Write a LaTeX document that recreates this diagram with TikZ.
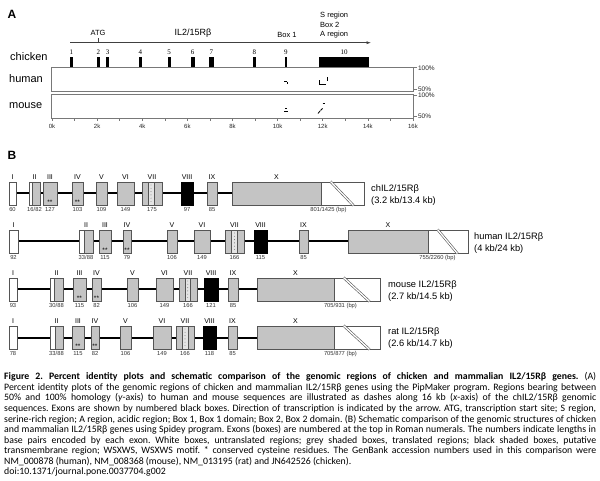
\documentclass[tikz,border=0pt]{standalone}
\usepackage{fontspec}
\setmainfont{Liberation Sans}
\newfontfamily\serifnum{Liberation Serif}
\newfontfamily\capfont{Carlito}
\usetikzlibrary{calc,arrows.meta}
\pgfdeclarelayer{background}
\pgfsetlayers{background,main}
\definecolor{exgray}{RGB}{196,196,196}
\definecolor{edge}{RGB}{85,85,85}
\definecolor{stripecol}{RGB}{228,228,228}
\definecolor{plotedge}{RGB}{120,120,120}
\frenchspacing
\tikzset{
  ebox/.style={draw=edge, line width=0.9pt, fill=exgray, inner sep=0pt, minimum height=23pt},
  wbox/.style={ebox, fill=white},
  bbox/.style={ebox, fill=black, draw=black},
  rom/.style={font=\fontsize{7}{8}\selectfont, anchor=south, inner sep=0pt},
  num/.style={font=\fontsize{5.8}{6}\selectfont, anchor=north, inner sep=0pt, text=black!80},
  star/.style={font=\fontsize{6.5}{6}\selectfont, anchor=south, inner sep=0pt},
  spec/.style={font=\fontsize{9.3}{12}\selectfont, anchor=west, align=left, inner sep=0pt},
  backbone/.style={line width=2pt, black},
  hatch/.style={double, double distance=1.3pt, line width=0.6pt, draw=edge},
  bar/.style={fill=black, inner sep=0pt, minimum height=10pt},
  barnum/.style={font=\serifnum\fontsize{7}{8}\selectfont, anchor=south, inner sep=0pt},
  plotbox/.style={draw=plotedge, line width=0.7pt, inner sep=0pt, minimum width=362pt, minimum height=24pt},
  axl/.style={font=\fontsize{6}{7}\selectfont, inner sep=0pt, text=black!85},
  pct/.style={font=\fontsize{6.5}{7}\selectfont, anchor=west, inner sep=0pt, text=black!85},
  small/.style={font=\fontsize{7.5}{8}\selectfont, inner sep=0pt},
  species/.style={font=\fontsize{11}{12}\selectfont, anchor=west, inner sep=0pt},
  panel/.style={font=\bfseries\fontsize{12}{14}\selectfont, inner sep=0pt},
  capline/.style={font=\capfont\fontsize{9.8}{10}\selectfont\frenchspacing, anchor=west, inner sep=0pt},
  pidash/.style={line width=0.8pt, black}
}
\newcommand\exon[6]{%
  \node[#4, minimum width={#3pt-#2pt}] (#1) at ({(#2+#3)/2},\ry) {};
  \node[rom] (#1r) at ([yshift=2pt]#1.north) {#5};
  \node[num] (#1n) at ([yshift=-2pt]#1.south) {#6};
}
\newcommand\wpart[3]{\node[wbox, minimum width={#3pt-#2pt}] (#1) at ({(#2+#3)/2},\ry) {};}
\newcommand\stripe[3]{%
  \node[draw=edge, line width=0.6pt, fill=stripecol, inner sep=0pt, minimum height=23pt, minimum width={#3pt-#2pt}] (#1) at ({(#2+#3)/2},\ry) {};
  \foreach \k in {1,...,6} \fill[black!60] ($(#1.north)+(0,{\k*3.3})$) circle (0.45pt);
}
\newcommand\stars[1]{\node[star] (#1s) at ([yshift=0.5pt]#1.south) {**};}
\newcommand\xexon[7]{% name, x1, x2(split), x3, roman, number text, number offset
  \node[ebox, minimum width={#3pt-#2pt}] (#1) at ({(#2+#3)/2},\ry) {};
  \node[wbox, minimum width={#4pt-#3pt}] (#1u) at ({(#3+#4)/2},\ry) {};
  \node[rom] (#1r) at ([yshift=2pt]#1.north) {#5};
  \node[num] (#1n) at ([xshift=#7pt,yshift=-2pt]#1.south east) {#6};
  \draw[hatch] ($(#1u.north west)+(10,0)$) -- ($(#1u.south east)+(-11,0)$);
}
\begin{document}
\begin{tikzpicture}[x=1pt,y=-1pt]
\useasboundingbox (0,0) rectangle (600,481);
\begin{pgfonlayer}{background}\fill[white] (0,0) rectangle (600,481);\end{pgfonlayer}

% ---------------- Panel A ----------------
\node[panel] (pA) at (12,14) {A};
\coordinate (arrS) at (70,42.7);
\coordinate (arrE) at (371,42.7);
\coordinate (atgB) at (98,42.7);
\coordinate (atgT) at (98,38.3);
\draw[line width=0.6pt, black!75, -{Latex[length=4.5pt,width=3pt]}] (arrS) -- (arrE);
\draw[line width=0.6pt, black!75] (atgB) -- (atgT);
\node[small] (atg) at (98,33) {ATG};
\node[small, font=\fontsize{9}{10}\selectfont] (ilA) at (193,33) {IL2/15Rβ};
\node[small] (box1) at (287,35) {Box 1};
\node[small, anchor=west] (sreg) at (320,16) {S region};
\node[small, anchor=west] (box2) at (320,25.3) {Box 2};
\node[small, anchor=west] (areg) at (320,34.7) {A region};

\node[species] (chk) at (10,57) {chicken};
\node[species] (hum) at (9,79) {human};
\node[species] (mou) at (9,106) {mouse};

\foreach \nm/\a/\b in {1/70/72.5, 2/97.2/99.7, 3/106/109.3, 4/139/141.8, 5/167.8/170.6, 6/190.6/194.6, 7/209/213.8, 8/253/255.5, 9/284.7/287, 10/319/369} {
  \node[bar, minimum width={\b pt-\a pt}] (bar\nm) at ({(\a+\b)/2},61.7) {};
  \node[barnum] (barn\nm) at ([yshift=1.5pt]bar\nm.north) {\nm};
}

\node[plotbox] (hplot) at (232,79.7) {};
\node[plotbox] (mplot) at (232,106.3) {};
\foreach \k in {0,...,16} \draw[plotedge, line width=0.6pt] ({52+\k*22.56},118.3) -- ++(0,3);
\foreach \k in {0,2,...,16} \node[axl] (axl\k) at ({52+\k*22.56},126.5) {\k k};

\draw[plotedge, line width=0.6pt] (hplot.north east) -- ++(4,0);
\draw[plotedge, line width=0.6pt] ($(hplot.south east)+(0,-2.5)$) -- ++(4,0);
\draw[plotedge, line width=0.6pt] ($(mplot.north east)+(0,1.5)$) -- ++(4,0);
\draw[plotedge, line width=0.6pt] ($(mplot.south east)+(0,-2.5)$) -- ++(4,0);
\node[pct] (p100h) at ($(hplot.north east)+(4.5,0.5)$) {100\%};
\node[pct] (p50h) at ($(hplot.south east)+(4.5,-2.5)$) {50\%};
\node[pct] (p100m) at ($(mplot.north east)+(4.5,1.5)$) {100\%};
\node[pct] (p50m) at ($(mplot.south east)+(4.5,-2.5)$) {50\%};

% identity dashes
\draw[pidash] (284,81) -- (287,81);
\draw[pidash] (287.3,82) -- (287.3,84.5);
\draw[pidash] (319,80.5) -- (319,84.3) -- (326,84.3);
\draw[pidash] (327,77.5) -- (327,81);
\draw[pidash] (285,108) -- (286.5,108);
\draw[pidash] (284,111.5) -- (287.5,111.5);
\draw[pidash] (318,113.5) -- (320,111);
\draw[pidash] (320.5,110.5) -- (322.5,108.5);
\draw[pidash] (322.5,103) -- (325,103);

% ---------------- Panel B ----------------
\node[panel] (pB) at (12,155) {B};

% chicken row
\def\ry{193.5}
\exon{cI}{9}{16}{wbox}{I}{60}
\exon{cII}{29}{40}{ebox}{II}{16/82}
\wpart{cIIw}{29}{32.5}
\exon{cIII}{43}{57}{ebox}{III}{127}\stars{cIII}
\exon{cIV}{72}{83}{ebox}{IV}{103}\stars{cIV}
\exon{cV}{96}{107}{ebox}{V}{109}
\exon{cVI}{117}{134}{ebox}{VI}{149}
\exon{cVII}{142}{162}{ebox}{VII}{175}
\stripe{cVIIs}{148}{154}
\exon{cVIII}{181}{193}{bbox}{VIII}{97}
\exon{cIX}{207}{217}{ebox}{IX}{85}
\xexon{cX}{232}{321}{364}{X}{801/1425 (bp)}{7}
\begin{pgfonlayer}{background}\draw[backbone] (cI.center) -- (cX.center);\end{pgfonlayer}
\node[spec] (cname) at (371,195) {chIL2/15Rβ\\(3.2 kb/13.4 kb)};

% human row
\def\ry{241.5}
\exon{hI}{9}{18}{wbox}{I}{92}
\exon{hII}{79}{93}{ebox}{II}{33/88}
\wpart{hIIw}{79}{84}
\exon{hIII}{99}{111}{ebox}{III}{115}\stars{hIII}
\exon{hIV}{123}{131}{ebox}{IV}{79}\stars{hIV}
\exon{hV}{167}{177}{ebox}{V}{106}
\exon{hVI}{194}{210}{ebox}{VI}{149}
\exon{hVII}{225}{244}{ebox}{VII}{166}
\stripe{hVIIs}{231.5}{237.5}
\exon{hVIII}{254}{267}{bbox}{VIII}{115}
\exon{hIX}{299}{308}{ebox}{IX}{85}
\xexon{hX}{348}{428}{468}{X}{755/2260 (bp)}{9}
\begin{pgfonlayer}{background}\draw[backbone] (hI.center) -- (hX.center);\end{pgfonlayer}
\node[spec] (hname) at (474,243) {human IL2/15Rβ\\(4 kb/24 kb)};

% mouse row
\def\ry{289.5}
\exon{mI}{9}{17}{wbox}{I}{93}
\exon{mII}{50}{63}{ebox}{II}{30/88}
\wpart{mIIw}{50}{54}
\exon{mIII}{73}{86}{ebox}{III}{115}\stars{mIII}
\exon{mIV}{92}{101}{ebox}{IV}{82}\stars{mIV}
\exon{mV}{127}{138}{ebox}{V}{106}
\exon{mVI}{156}{173}{ebox}{VI}{149}
\exon{mVII}{179}{197}{ebox}{VII}{166}
\stripe{mVIIs}{185}{190.5}
\exon{mVIII}{204}{218}{bbox}{VIII}{121}
\exon{mIX}{228}{238}{ebox}{IX}{85}
\xexon{mX}{257}{334}{380}{X}{705/931 (bp)}{6}
\begin{pgfonlayer}{background}\draw[backbone] (mI.center) -- (mX.center);\end{pgfonlayer}
\node[spec] (mname) at (388,291) {mouse IL2/15Rβ\\(2.7 kb/14.5 kb)};

% rat row
\def\ry{337.5}
\exon{rI}{9}{17}{wbox}{I}{78}
\exon{rII}{50}{63}{ebox}{II}{33/88}
\wpart{rIIw}{50}{55}
\exon{rIII}{72}{84}{ebox}{III}{115}\stars{rIII}
\exon{rIV}{91}{99}{ebox}{IV}{82}\stars{rIV}
\exon{rV}{120}{131}{ebox}{V}{106}
\exon{rVI}{153}{171}{ebox}{VI}{149}
\exon{rVII}{176}{194}{ebox}{VII}{166}
\stripe{rVIIs}{182}{188}
\exon{rVIII}{203}{216}{bbox}{VIII}{118}
\exon{rIX}{228}{237}{ebox}{IX}{85}
\xexon{rX}{257}{334}{380}{X}{705/877 (bp)}{6}
\begin{pgfonlayer}{background}\draw[backbone] (rI.center) -- (rX.center);\end{pgfonlayer}
\node[spec] (rname) at (388,338) {rat IL2/15Rβ\\(2.6 kb/14.7 kb)};

% ---------------- Caption ----------------
\node[capline] (cap1) at (4,377) {\makebox[592pt][s]{\bfseries Figure 2. Percent identity plots and schematic comparison of the genomic regions of chicken and mammalian IL2/15Rβ genes.\mdseries{} (A)}};
\node[capline] (cap2) at (4,387.6) {\makebox[592pt][s]{Percent identity plots of the genomic regions of chicken and mammalian IL2/15Rβ genes using the PipMaker program. Regions bearing between}};
\node[capline] (cap3) at (4,398.2) {\makebox[592pt][s]{50\% and 100\% homology (\textit{y}-axis) to human and mouse sequences are illustrated as dashes along 16 kb (\textit{x}-axis) of the chIL2/15Rβ genomic}};
\node[capline] (cap4) at (4,408.8) {\makebox[592pt][s]{sequences. Exons are shown by numbered black boxes. Direction of transcription is indicated by the arrow. ATG, transcription start site; S region,}};
\node[capline] (cap5) at (4,419.4) {\makebox[592pt][s]{serine-rich region; A region, acidic region; Box 1, Box 1 domain; Box 2, Box 2 domain. (B) Schematic comparison of the genomic structures of chicken}};
\node[capline] (cap6) at (4,430) {\makebox[592pt][s]{and mammalian IL2/15Rβ genes using Spidey program. Exons (boxes) are numbered at the top in Roman numerals. The numbers indicate lengths in}};
\node[capline] (cap7) at (4,440.6) {\makebox[592pt][s]{base pairs encoded by each exon. White boxes, untranslated regions; grey shaded boxes, translated regions; black shaded boxes, putative}};
\node[capline] (cap8) at (4,451.2) {\makebox[592pt][s]{transmembrane region; WSXWS, WSXWS motif. * conserved cysteine residues. The GenBank accession numbers used in this comparison were}};
\node[capline] (cap9) at (4,461.8) {NM\_000878 (human), NM\_008368 (mouse), NM\_013195 (rat) and JN642526 (chicken).};
\node[capline] (cap10) at (4,472.4) {doi:10.1371/journal.pone.0037704.g002};
\end{tikzpicture}
\end{document}
